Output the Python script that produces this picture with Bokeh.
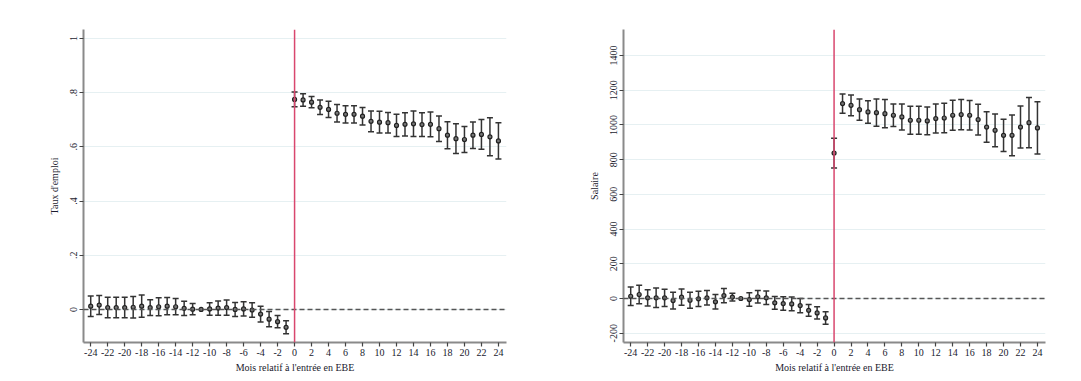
from bokeh.plotting import figure
from bokeh.layouts import row
from bokeh.models import ColumnDataSource, Whisker, TeeHead, Span, FixedTicker, Range1d
from bokeh.embed import file_html
from bokeh.resources import INLINE

months = list(range(-24, 25))

emp_coef = [0.012, 0.016, 0.007, 0.007, 0.007, 0.008, 0.012, 0.007, 0.010, 0.012, 0.010, 0.004,
            0.001, 0.000, 0.002, 0.005, 0.007, 0.000, 0.002, -0.002, -0.017, -0.036, -0.045, -0.066,
            0.775, 0.773, 0.765, 0.746, 0.738, 0.724, 0.720, 0.720, 0.713, 0.694, 0.691, 0.689,
            0.679, 0.683, 0.685, 0.682, 0.683, 0.667, 0.643, 0.630, 0.627, 0.643, 0.646, 0.637, 0.622]
emp_err = [0.038, 0.035, 0.038, 0.038, 0.038, 0.040, 0.041, 0.029, 0.033, 0.032, 0.030, 0.026,
           0.021, 0.000, 0.023, 0.026, 0.028, 0.026, 0.026, 0.027, 0.029, 0.028, 0.023, 0.024,
           0.027, 0.023, 0.021, 0.027, 0.030, 0.032, 0.032, 0.032, 0.032, 0.038, 0.040, 0.038,
           0.041, 0.043, 0.047, 0.044, 0.046, 0.047, 0.050, 0.055, 0.048, 0.049, 0.055, 0.070, 0.067]

sal_coef = [13, 23, 4, 4, 4, -12, 8, -10, -2, 4, -19, 17,
            8, 0, -6, 10, 4, -25, -29, -31, -41, -68, -83, -112,
            838, 1123, 1113, 1088, 1075, 1071, 1065, 1056, 1046, 1027, 1027, 1023,
            1037, 1040, 1056, 1060, 1056, 1031, 988, 969, 940, 940, 988, 1013, 983]
sal_err = [53, 53, 47, 56, 50, 48, 47, 46, 44, 42, 42, 41,
           22, 0, 39, 36, 39, 37, 39, 39, 41, 34, 35, 36,
           86, 56, 60, 61, 65, 78, 81, 65, 75, 81, 81, 80,
           84, 85, 87, 87, 85, 89, 88, 94, 93, 117, 121, 145, 150]

emp_ticks = [0, 0.2, 0.4, 0.6, 0.8, 1]
emp_labels = {0: "0", 0.2: ".2", 0.4: ".4", 0.6: ".6", 0.8: ".8", 1: "1"}
sal_ticks = [-200, 0, 200, 400, 600, 800, 1000, 1200, 1400]
sal_labels = {t: str(t) for t in sal_ticks}
x_ticks = list(range(-24, 25, 2))
x_labels = {t: str(t) for t in x_ticks}

FONT = "Liberation Serif"
TXT = "#1a1a2e"


def panel(coef, err, yticks, ylabels, yrange, ytitle, width, bl, br):
    p = figure(width=width, height=376, output_backend="svg", toolbar_location=None,
               x_range=Range1d(-24.85, 24.95), y_range=Range1d(*yrange),
               min_border_left=bl, min_border_right=br, min_border_top=29, min_border_bottom=34)
    p.outline_line_color = None
    p.background_fill_color = "white"
    p.border_fill_color = "white"
    p.xgrid.grid_line_color = None
    p.ygrid.grid_line_color = "#e6f0f2"
    p.ygrid.grid_line_width = 1
    p.ygrid.ticker = FixedTicker(ticks=yticks)

    p.xaxis.ticker = FixedTicker(ticks=x_ticks)
    p.xaxis.major_label_overrides = x_labels
    p.yaxis.ticker = FixedTicker(ticks=yticks)
    p.yaxis.major_label_overrides = ylabels
    p.yaxis.major_label_orientation = "vertical"
    for ax in (p.xaxis, p.yaxis):
        ax.axis_line_color = "#8a8a8a"
        ax.axis_line_width = 2
        ax.major_tick_line_color = "#444444"
        ax.major_tick_line_width = 1.2
        ax.major_tick_out = 4
        ax.major_tick_in = 0
        ax.minor_tick_line_color = None
        ax.major_label_text_font = FONT
        ax.major_label_text_font_size = "10px"
        ax.major_label_text_color = TXT
        ax.axis_label_text_font = FONT
        ax.axis_label_text_font_size = "10px"
        ax.axis_label_text_font_style = "normal"
        ax.axis_label_text_color = TXT
        ax.major_label_standoff = 2
    p.xaxis.axis_label = "Mois relatif à l'entrée en EBE"
    p.xaxis.axis_label_standoff = 3
    p.yaxis.axis_label = ytitle
    p.yaxis.axis_label_standoff = 8

    p.add_layout(Span(location=0, dimension="width", line_color="#555555",
                      line_dash="5 3", line_width=1.5))
    p.add_layout(Span(location=0, dimension="height", line_color="#d9476e", line_width=1.5))

    xs = [m for m, e in zip(months, err) if e > 0]
    lo = [c - e for c, e in zip(coef, err) if e > 0]
    hi = [c + e for c, e in zip(coef, err) if e > 0]
    wsrc = ColumnDataSource(dict(x=xs, lower=lo, upper=hi))
    p.add_layout(Whisker(base="x", lower="lower", upper="upper", source=wsrc,
                         line_color="#333333", line_width=1.5,
                         upper_head=TeeHead(size=6, line_color="#333333", line_width=1.5),
                         lower_head=TeeHead(size=6, line_color="#333333", line_width=1.5)))
    p.scatter(months, coef, size=4, fill_color="#777777", line_color="#222222", line_width=1.2)
    return p


left = panel(emp_coef, emp_err, emp_ticks, emp_labels, (-0.122, 1.033), "Taux d'emploi", 548, 83, 42)
right = panel(sal_coef, sal_err, sal_ticks, sal_labels, (-253.5, 1550), "Salaire", 525, 75, 28)

layout = row(left, right)
open("out.html", "w").write(file_html(layout, INLINE))
